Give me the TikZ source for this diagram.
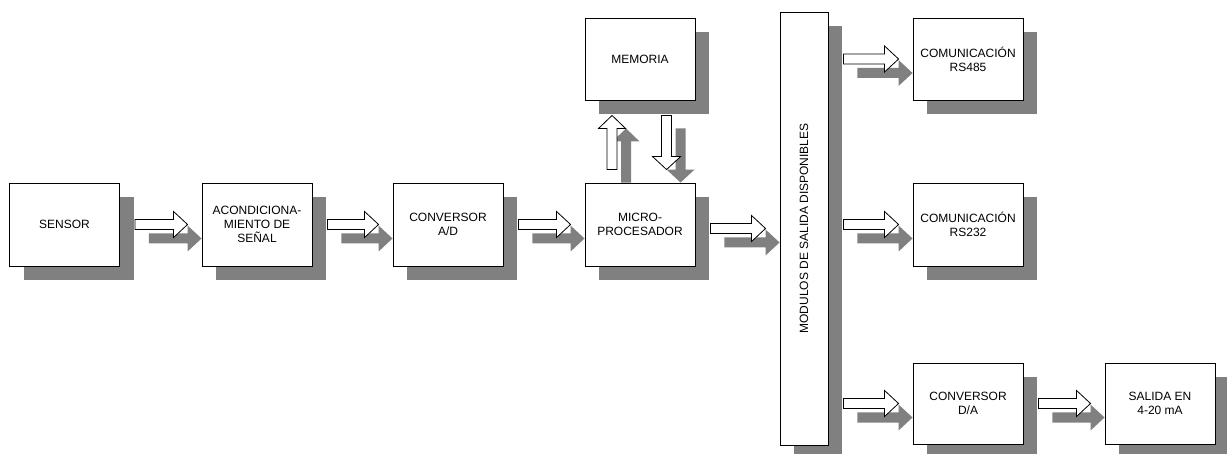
\documentclass[tikz,border=0pt]{standalone}
\usepackage{fontspec}
\setmainfont{Liberation Sans}
\usetikzlibrary{shadows,calc}
\definecolor{shadowgray}{RGB}{128,128,128}
\tikzset{
 blk/.style={draw=black, line width=0.9pt, fill=white, minimum width=110pt, minimum height=83pt,
   align=center, font=\fontsize{12}{14}\selectfont, inner sep=2pt,
   drop shadow={shadow xshift=14pt, shadow yshift=-14pt, fill=shadowgray, opacity=1}},
 hollow/.style={draw=black, line width=0.8pt, fill=white, line join=miter},
 shade/.style={fill=shadowgray},
 lbl/.style={font=\fontsize{12}{14}\selectfont, align=center},
}
% horizontal fat arrow with shadow, from node #1 to node #2
\newcommand\harr[2]{%
 \path[shade] let \p1=($(#1.east)+(29pt,0pt)$), \p2=($(#2.west)+(0pt,-14pt)$) in
  (\x1,\y2+5pt) -- (\x2-14pt,\y2+5pt) -- (\x2-14pt,\y2+13pt) -- (\x2,\y2) --
  (\x2-14pt,\y2-13pt) -- (\x2-14pt,\y2-5pt) -- (\x1,\y2-5pt) -- cycle;
 \path[hollow] let \p1=($(#1.east)+(15pt,0pt)$), \p2=($(#2.west)+(-14pt,0pt)$) in
  (\x1,\y2+5pt) -- (\x2-14pt,\y2+5pt) -- (\x2-14pt,\y2+13pt) -- (\x2,\y2) --
  (\x2-14pt,\y2-13pt) -- (\x2-14pt,\y2-5pt) -- (\x1,\y2-5pt) -- cycle;
}
\begin{document}
\begin{tikzpicture}[x=1pt,y=-1pt]
\useasboundingbox (0,0) rectangle (1227,454);

\node[blk] (sensor) at (64.5,224.5) {SENSOR};
\node[blk] (acond) at (257,224.5) {ACONDICIONA-\\MIENTO DE\\SEÑAL};
\node[blk] (adc) at (448,224.5) {CONVERSOR\\A/D};
\node[blk] (micro) at (640,224.5) {MICRO-\\PROCESADOR};
\node[blk, minimum height=82pt] (mem) at (640,59) {MEMORIA};
\node[blk, minimum width=48pt, minimum height=433pt] (bar) at (804,228.5) {};
\node[lbl, rotate=90] (barlbl) at (bar.center) {MODULOS DE SALIDA DISPONIBLES};
\node[blk, minimum height=82pt] (rs485) at (968,59) {COMUNICACIÓN\\RS485};
\node[blk] (rs232) at (968,224.5) {COMUNICACIÓN\\RS232};
\node[blk, minimum height=81pt] (dac) at (968,403.5) {CONVERSOR\\D/A};
\node[blk, minimum height=81pt] (out) at (1160,403.5) {SALIDA EN\\4-20 mA};

\harr{sensor}{acond}
\harr{acond}{adc}
\harr{adc}{micro}
\harr{micro}{bar}
\harr{bar}{rs485}
\harr{bar}{rs232}
\harr{bar}{dac}
\harr{dac}{out}

% up arrow (micro -> memoria)
\path[shade] let \p1=(micro.north west), \p2=(mem.south west),
  \n1={\x1+41.5pt}, \n2={\y1}, \n3={\y2-28pt} in
  (\n1-5pt,\n2) -- (\n1-5pt,\n3-13pt) -- (\n1-13.5pt,\n3-13pt) -- (\n1,\n3) --
  (\n1+13.5pt,\n3-13pt) -- (\n1+5pt,\n3-13pt) -- (\n1+5pt,\n2) -- cycle;
\path[hollow] let \p1=(micro.north west), \p2=(mem.south west),
  \n1={\x1+27.5pt}, \n2={\y1+13pt}, \n3={\y2-15pt} in
  (\n1-5pt,\n2) -- (\n1-5pt,\n3-13pt) -- (\n1-13.5pt,\n3-13pt) -- (\n1,\n3) --
  (\n1+13.5pt,\n3-13pt) -- (\n1+5pt,\n3-13pt) -- (\n1+5pt,\n2) -- cycle;
% down arrow (memoria -> micro)
\path[shade] let \p1=(micro.north west), \p2=(mem.south west),
  \n1={\x1+96pt}, \n2={\y2-28pt}, \n3={\y1} in
  (\n1-5pt,\n2) -- (\n1-5pt,\n3+13pt) -- (\n1-14pt,\n3+13pt) -- (\n1,\n3) --
  (\n1+14pt,\n3+13pt) -- (\n1+5pt,\n3+13pt) -- (\n1+5pt,\n2) -- cycle;
\path[hollow] let \p1=(micro.north west), \p2=(mem.south west),
  \n1={\x1+82pt}, \n2={\y2-15pt}, \n3={\y1+13pt} in
  (\n1-5pt,\n2) -- (\n1-5pt,\n3+13pt) -- (\n1-14pt,\n3+13pt) -- (\n1,\n3) --
  (\n1+14pt,\n3+13pt) -- (\n1+5pt,\n3+13pt) -- (\n1+5pt,\n2) -- cycle;
\end{tikzpicture}
\end{document}
